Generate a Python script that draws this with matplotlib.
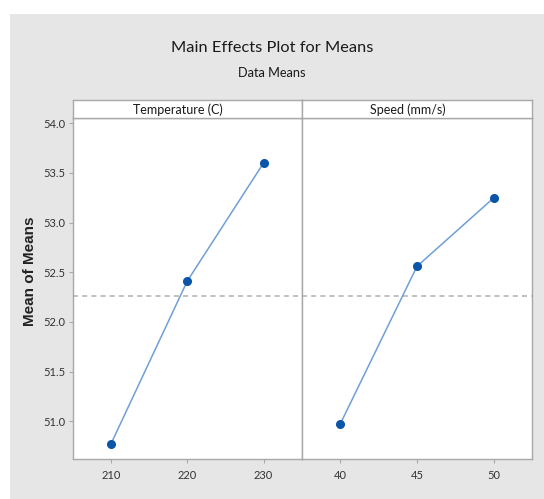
import numpy as np
import matplotlib
matplotlib.use("Agg")
import matplotlib.pyplot as plt
from matplotlib.patches import Rectangle

# data
temp_levels = [210, 220, 230]
temp_means = [50.77, 52.41, 53.60]
speed_levels = [40, 45, 50]
speed_means = [50.97, 52.56, 53.25]
y_ticks = [51.0, 51.5, 52.0, 52.5, 53.0, 53.5, 54.0]

grand_mean = np.mean(temp_means + speed_means)

W, H = 544, 499
fig = plt.figure(figsize=(W / 100, H / 100), dpi=100, facecolor="white")

# gray panel behind everything
fig.patches.append(Rectangle((10 / W, 0), 1, (H - 14) / H, transform=fig.transFigure,
                             facecolor="#e6e6e6", edgecolor="none", zorder=-10))

fig.text(272 / W, 1 - 48 / H, "Main Effects Plot for Means", ha="center", va="center",
         fontsize=11.8, family="Lato", color="#1a1a1a")
fig.text(272 / W, 1 - 73 / H, "Data Means", ha="center", va="center",
         fontsize=9.2, family="Lato", color="#1a1a1a")
fig.text(30 / W, 1 - 271 / H, "Mean of Means", ha="center", va="center", rotation=90,
         fontsize=11, fontweight="bold", family="Liberation Sans", color="#222222")

spine_col = "#a8a8a8"
bottom = 1 - 459 / H
height = (459 - 118.3) / H
panels = [
    (72.7, 229.0, temp_levels, temp_means, (205, 235), "Temperature (C)"),
    (301.7, 230.6, speed_levels, speed_means, (37.5, 52.5), "Speed (mm/s)"),
]

for i, (x0, w, levels, means, xlim, label) in enumerate(panels):
    ax = fig.add_axes([x0 / W, bottom, w / W, height])
    ax.set_facecolor("white")
    ax.axhline(grand_mean, color="#b5b5b5", linestyle=(0, (3, 2.5)), linewidth=1.2, zorder=1)
    ax.plot(levels, means, color="#6f9fd6", linewidth=1.1, zorder=2)
    ax.plot(levels, means, "o", color="#0a55a8", markersize=5.5, zorder=3)
    ax.set_xlim(*xlim)
    ax.set_ylim(50.62, 54.05)
    ax.set_xticks(levels)
    ax.set_yticks(y_ticks)
    ax.set_yticklabels([f"{v:.1f}" for v in y_ticks])
    for s in ax.spines.values():
        s.set_color(spine_col)
        s.set_linewidth(1.0)
    ax.tick_params(colors=spine_col, labelcolor="#333333", labelsize=8, length=3)
    ax.tick_params(axis="x", pad=5)
    ax.tick_params(axis="y", pad=2)
    for t in ax.get_xticklabels() + ax.get_yticklabels():
        t.set_family("Lato")
    if i == 1:
        ax.tick_params(axis="y", left=False, labelleft=False)

    # strip header
    sx = fig.add_axes([x0 / W, 1 - 118.3 / H, w / W, 18.3 / H])
    sx.set_facecolor("white")
    sx.set_xticks([])
    sx.set_yticks([])
    for s in sx.spines.values():
        s.set_color(spine_col)
        s.set_linewidth(1.0)
    sx.text(0.46, 0.45, label, transform=sx.transAxes, ha="center", va="center",
            fontsize=9, family="Lato", color="#1a1a1a")

fig.savefig("out.png", dpi=100, facecolor=fig.get_facecolor())
